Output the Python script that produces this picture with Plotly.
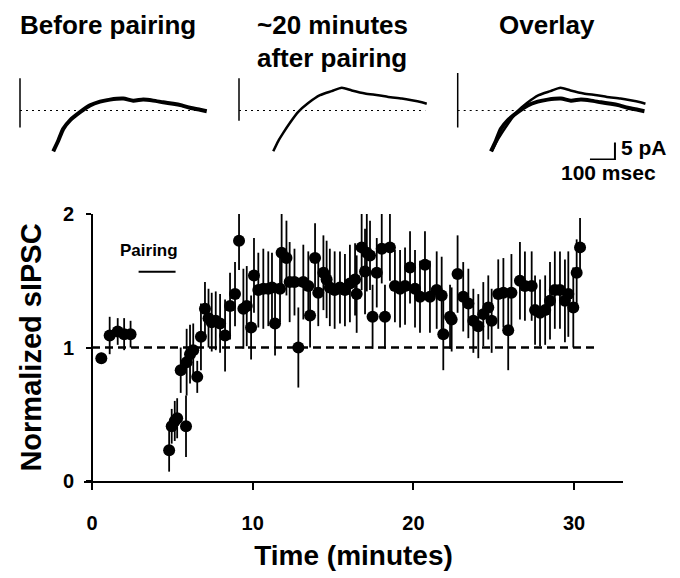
import plotly.graph_objects as go

W, H = 680, 578

# ---------------- main time-course data ----------------
time_min = [0.58, 1.1, 1.6, 2.0, 2.4,
            4.8, 4.96, 5.15, 5.3, 5.52, 5.85, 5.89, 6.1, 6.3, 6.55, 6.78, 7.03, 7.25, 7.45, 7.7,
            7.97, 8.28, 8.59, 8.9, 9.15, 9.42, 9.63, 9.9, 10.08, 10.35, 10.66, 10.97, 11.2, 11.39,
            11.7, 11.8, 12.1, 12.3, 12.6, 12.84, 13.15, 13.46, 13.57, 13.88, 14.08, 14.4, 14.6,
            14.8, 15.1, 15.43, 15.74, 16.05, 16.37, 16.47, 16.78, 16.99, 17.1, 17.3, 17.46, 17.72,
            18.03, 18.23, 18.54, 18.85, 19.17, 19.48, 19.79, 20.1, 20.41, 20.72, 21.03, 21.45,
            21.76, 21.86, 22.28, 22.38, 22.75, 23.1, 23.42, 23.73, 24.04, 24.35, 24.66, 24.87,
            25.28, 25.6, 25.9, 26.1, 26.63, 26.94, 27.36, 27.57, 27.88, 28.2, 28.5, 28.8, 29.12,
            29.43, 29.64, 29.95, 30.16, 30.37]
norm_sipsc = [0.92, 1.09, 1.12, 1.10, 1.10,
              0.23, 0.41, 0.45, 0.47, 0.83, 0.41, 0.89, 0.95, 0.98, 0.78, 1.08, 1.29, 1.22, 1.19, 1.20,
              1.18, 1.09, 1.31, 1.40, 1.80, 1.29, 1.31, 1.15, 1.54, 1.43, 1.44, 1.44, 1.45, 1.18,
              1.44, 1.71, 1.67, 1.49, 1.49, 1.00, 1.49, 1.46, 1.24, 1.67, 1.41, 1.56, 1.51,
              1.45, 1.43, 1.45, 1.43, 1.48, 1.51, 1.40, 1.75, 1.57, 1.71, 1.69, 1.23, 1.56,
              1.74, 1.23, 1.75, 1.46, 1.44, 1.46, 1.60, 1.44, 1.38, 1.62, 1.38, 1.43,
              1.39, 1.10, 1.23, 1.21, 1.55, 1.38, 1.33, 1.20, 1.16, 1.25, 1.30, 1.20,
              1.40, 1.41, 1.13, 1.41, 1.50, 1.46, 1.46, 1.28, 1.26, 1.28, 1.35, 1.43, 1.43,
              1.35, 1.40, 1.30, 1.56, 1.75]
sem = [0.04, 0.14, 0.10, 0.12, 0.10,
       0.16, 0.13, 0.15, 0.15, 0.17, 0.23, 0.25, 0.22, 0.20, 0.12, 0.25, 0.20, 0.22, 0.22, 0.22,
       0.22, 0.27, 0.25, 0.24, 0.22, 0.30, 0.30, 0.24, 0.28, 0.28, 0.30, 0.28, 0.26, 0.24,
       0.25, 0.30, 0.28, 0.30, 0.25, 0.30, 0.28, 0.26, 0.24, 0.26, 0.25, 0.28, 0.29,
       0.29, 0.29, 0.27, 0.27, 0.29, 0.27, 0.29, 0.32, 0.32, 0.29, 0.26, 0.24, 0.26,
       0.26, 0.24, 0.25, 0.27, 0.29, 0.29, 0.27, 0.29, 0.27, 0.25, 0.27, 0.29,
       0.29, 0.27, 0.24, 0.24, 0.29, 0.26, 0.26, 0.24, 0.24, 0.24, 0.24, 0.24,
       0.26, 0.26, 0.30, 0.29, 0.29, 0.26, 0.26, 0.26, 0.25, 0.26, 0.29, 0.29, 0.29,
       0.31, 0.32, 0.30, 0.25, 0.22]

x_ticks = [0, 10, 20, 30]
y_ticks = [0, 1, 2]
baseline_level = 1.0
baseline_span = [0, 31.3]
pairing_span = [2.9, 5.2]
pairing_level = 1.567

# ---------------- example sIPSC traces (ms after stimulus, pA from baseline) ----------------
before_t = [133, 153, 173, 200, 240, 280, 320, 360, 413, 453, 493, 533, 573, 613, 647, 680, 720, 747]
before_pa = [-12.0, -8.9, -5.4, -2.9, -0.5, 1.5, 2.6, 3.2, 3.5, 2.9, 3.2, 2.9, 2.4, 2.0, 1.5, 0.8, 0.2, -0.2]
after_t = [137, 157, 177, 204, 237, 277, 324, 371, 411, 451, 504, 557, 597, 651, 691, 731, 751]
after_pa = [-12.0, -9.0, -6.6, -3.6, -0.4, 2.2, 4.5, 5.7, 6.7, 5.9, 5.0, 4.5, 4.0, 3.5, 3.0, 2.4, 2.0]
artifact_pa = [[9.5, -5.0], [9.5, -3.0], [11.0, -5.0]]
trace_baseline_end = 745
scalebar_ms = 100
scalebar_pa = 5

panel_titles = [["Before pairing"], ["~20 minutes", "after pairing"], ["Overlay"]]

FONT = "Liberation Sans, Arial, sans-serif"

fig = go.Figure()

# dashed reference line at 1
fig.add_trace(go.Scatter(x=baseline_span, y=[baseline_level] * 2, mode="lines",
                         line=dict(color="black", width=2.5, dash="8px,5px"),
                         hoverinfo="skip", showlegend=False))
# pairing bar
fig.add_trace(go.Scatter(x=pairing_span, y=[pairing_level] * 2, mode="lines",
                         line=dict(color="black", width=2), showlegend=False))
# data with error bars
fig.add_trace(go.Scatter(x=time_min, y=norm_sipsc, mode="markers",
                         marker=dict(color="black", size=12, line=dict(width=0)),
                         error_y=dict(type="data", array=sem, visible=True, color="black",
                                      thickness=1.8, width=0),
                         cliponaxis=False, showlegend=False))

fig.add_annotation(x=sum(pairing_span) / 2 - 0.5, y=pairing_level + 0.16, text="Pairing",
                   showarrow=False, xref="x", yref="y",
                   font=dict(family=FONT, size=17, color="black", weight="bold"))

# ---------------- inset traces ----------------
px_per_ms = 1 / 4.0
px_per_pa = 3.4
art_px = [20, 239, 457.7]
base_px = 110.5
t_lo, t_hi = -40, 800
pa_top, pa_bot = (base_px - 70) / px_per_pa, (base_px - 160) / px_per_pa
panel_traces = [[(before_t, before_pa, 4)], [(after_t, after_pa, 2.5)],
                [(after_t, after_pa, 2.5), (before_t, before_pa, 4)]]
for i in range(3):
    ax = i + 2
    xa, ya = f"x{ax}", f"y{ax}"
    left_px = art_px[i] + t_lo * px_per_ms
    right_px = art_px[i] + t_hi * px_per_ms
    fig.update_layout(**{
        f"xaxis{ax}": dict(domain=[left_px / W, right_px / W], range=[t_lo, t_hi], visible=False,
                           anchor=ya, automargin=False),
        f"yaxis{ax}": dict(domain=[1 - 160 / H, 1 - 70 / H], range=[pa_bot, pa_top], visible=False,
                           anchor=xa, automargin=False),
    })
    # baseline dotted
    fig.add_trace(go.Scatter(x=[0, trace_baseline_end], y=[0, 0], mode="lines", xaxis=xa, yaxis=ya,
                             line=dict(color="black", width=1.2, dash="2px,4px"), showlegend=False))
    # stimulus artifact
    fig.add_trace(go.Scatter(x=[0, 0], y=artifact_pa[i], mode="lines", xaxis=xa, yaxis=ya,
                             line=dict(color="black", width=1.5), showlegend=False))
    for (tt, pp, lw) in panel_traces[i]:
        fig.add_trace(go.Scatter(x=tt, y=pp, mode="lines", xaxis=xa, yaxis=ya,
                                 line=dict(color="black", width=lw, shape="spline", smoothing=0.6),
                                 cliponaxis=False, showlegend=False))

# scale bar in the overlay panel
sb_t0 = 529
sb_p0 = -14.4
fig.add_trace(go.Scatter(x=[sb_t0, sb_t0 + scalebar_ms, sb_t0 + scalebar_ms],
                         y=[sb_p0, sb_p0, sb_p0 + scalebar_pa], mode="lines",
                         xaxis="x4", yaxis="y4", line=dict(color="black", width=2),
                         cliponaxis=False, showlegend=False))

# panel titles
title_x = [108, 332, 547]
title_y = [25, 58]
for i, lines in enumerate(panel_titles):
    for j, t in enumerate(lines):
        fig.add_annotation(x=title_x[i] / W, y=1 - title_y[j] / H, xref="paper", yref="paper",
                           text=t, showarrow=False, xanchor="center", yanchor="middle",
                           font=dict(family=FONT, size=26, color="black", weight="bold"))

fig.add_annotation(x=619 / W, y=1 - 147 / H, xref="paper", yref="paper", text=f"{scalebar_pa} pA",
                   showarrow=False, xanchor="left", yanchor="middle",
                   font=dict(family=FONT, size=21, color="black", weight="bold"))
fig.add_annotation(x=608 / W, y=1 - 172 / H, xref="paper", yref="paper",
                   text=f"{scalebar_ms} msec", showarrow=False, xanchor="center", yanchor="middle",
                   font=dict(family=FONT, size=21, color="black", weight="bold"))

x0_px, x_left_px, x_right_px = 92, 84, 623
px_per_min = 16.07
y_top_px, y_bot_px = 214, 481

fig.update_layout(
    width=W, height=H, margin=dict(l=0, r=0, t=0, b=0, autoexpand=False),
    paper_bgcolor="white", plot_bgcolor="white",
    font=dict(family=FONT, color="black"),
    xaxis=dict(domain=[x_left_px / W, x_right_px / W],
               range=[(x_left_px - x0_px) / px_per_min, (x_right_px - x0_px) / px_per_min],
               showline=True, linecolor="black", linewidth=2, showgrid=False, zeroline=False,
               ticks="outside", ticklen=7, tickwidth=2, tickcolor="black",
               tickvals=x_ticks, ticklabelstandoff=16, automargin=False,
               tickfont=dict(family=FONT, size=20, color="black", weight="bold"),
               title=dict(text="Time (minutes)", standoff=12,
                          font=dict(family=FONT, size=28, color="black", weight="bold")),
               anchor="y"),
    yaxis=dict(domain=[1 - y_bot_px / H, 1 - y_top_px / H], range=[0, 2],
               anchor="free", position=x0_px / W, automargin=False,
               showline=True, linecolor="black", linewidth=2, showgrid=False, zeroline=False,
               ticks="outside", ticklen=5, tickwidth=2, tickcolor="black",
               tickvals=y_ticks, ticklabelstandoff=8,
               tickfont=dict(family=FONT, size=20, color="black", weight="bold"),
               title=dict(text="Normalized sIPSC", standoff=12,
                          font=dict(family=FONT, size=29, color="black", weight="bold"))),
)

fig.write_html("out.html")
